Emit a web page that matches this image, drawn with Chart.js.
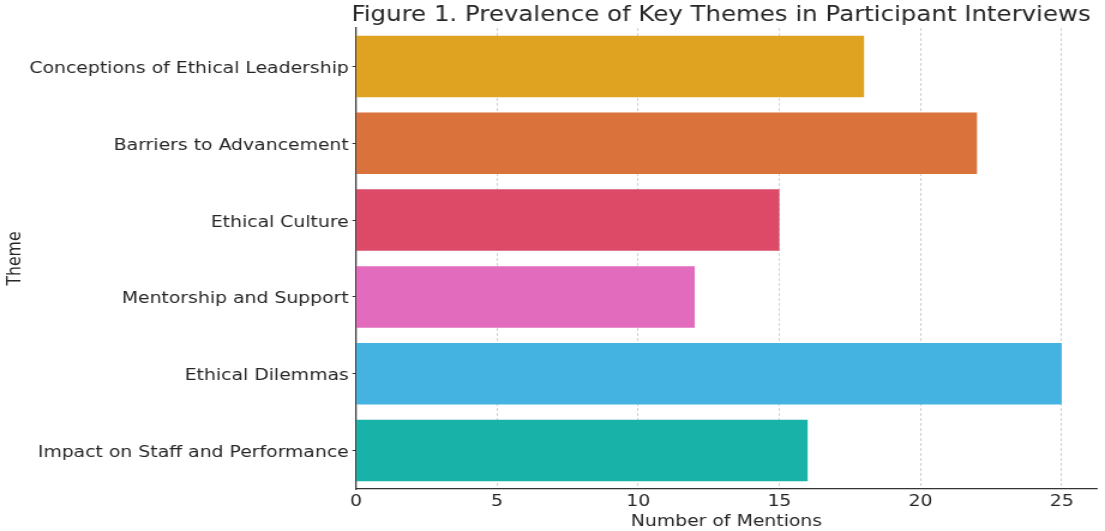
<!DOCTYPE html>
<html>
<head>
<meta charset="utf-8">
<script src="https://cdn.jsdelivr.net/npm/chart.js@4"></script>
<style>
  html, body { margin: 0; padding: 0; background: #fff; overflow: hidden; }
  /* el original esta estirado en horizontal: se dibuja a 921px y se escala */
  #wrap { width: 921px; height: 531px; transform: scaleX(1.19978); transform-origin: 0 0; }
</style>
</head>
<body>
<div id="wrap"><canvas id="grafico" width="921" height="531"></canvas></div>
<script>
const temas = [
  "Conceptions of Ethical Leadership",
  "Barriers to Advancement",
  "Ethical Culture",
  "Mentorship and Support",
  "Ethical Dilemmas",
  "Impact on Staff and Performance"
];
const menciones = [18, 22, 15, 12, 25, 16];
const colores = ["#DFA321", "#DA723B", "#DC4A68", "#E36BBE", "#44B3E2", "#19B2A8"];
const tituloGrafico = "Figure 1. Prevalence of Key Themes in Participant Interviews";

const fuente = "'DejaVu Sans', sans-serif";
const texto = "#262626";

// titulo centrado sobre el area del grafico, como en matplotlib
const tituloPlugin = {
  id: "tituloArea",
  afterDraw(chart) {
    const { ctx, chartArea } = chart;
    ctx.save();
    ctx.font = "20.4px " + fuente;
    ctx.fillStyle = texto;
    ctx.textAlign = "center";
    ctx.textBaseline = "alphabetic";
    ctx.fillText(tituloGrafico, (chartArea.left + chartArea.right) / 2 - 4.5, 20.5);
    ctx.restore();
  }
};

new Chart(document.getElementById("grafico").getContext("2d"), {
  type: "bar",
  data: {
    labels: temas,
    datasets: [{
      data: menciones,
      backgroundColor: colores,
      borderWidth: 0,
      categoryPercentage: 0.8,
      barPercentage: 1
    }]
  },
  options: {
    indexAxis: "y",
    responsive: false,
    animation: false,
    layout: { padding: { top: 28, right: 6.7, left: 0, bottom: 0 } },
    plugins: {
      legend: { display: false },
      tooltip: { enabled: false },
      title: { display: false }
    },
    scales: {
      x: {
        min: 0,
        max: 26.25,
        z: 1,
        ticks: {
          stepSize: 5,
          includeBounds: false,
          color: texto,
          font: { family: fuente, size: 15.7 },
          padding: 4
        },
        grid: {
          color: "#c6c6c6",
          lineWidth: 0.8,
          drawTicks: false
        },
        border: { display: true, color: "#333", width: 1.25, dash: [3, 2] },
        title: {
          display: true,
          text: "Number of Mentions",
          color: texto,
          font: { family: fuente, size: 15.7 },
          padding: { top: 0, bottom: 0 }
        },
        afterFit(scale) { scale.height = 42; }
      },
      y: {
        ticks: {
          color: texto,
          font: { family: fuente, size: 15.7 },
          padding: 3,
          labelOffset: 2.5
        },
        grid: {
          offset: false,
          drawOnChartArea: false,
          drawTicks: true,
          tickLength: 3,
          tickColor: "#333"
        },
        border: { display: true, color: "#333", width: 1.25 },
        title: {
          display: true,
          text: "Theme",
          color: texto,
          font: { family: fuente, size: 15.7 },
          padding: { top: 4, bottom: 0 }
        },
        afterFit(scale) { scale.width = 296.7; }
      }
    }
  },
  plugins: [tituloPlugin]
});
</script>
</body>
</html>
